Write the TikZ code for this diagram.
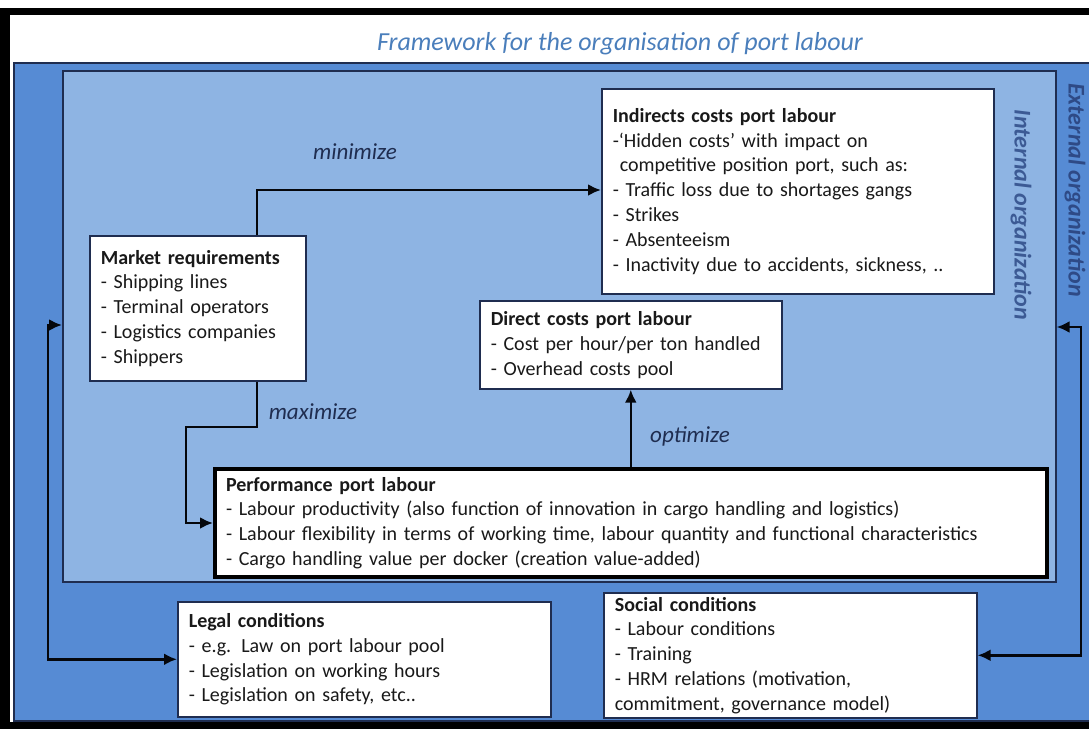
\documentclass[tikz,border=0pt]{standalone}
\usepackage{fontspec}
\setmainfont{Carlito}
\usetikzlibrary{arrows.meta}

\definecolor{outerblue}{RGB}{86,139,212}
\definecolor{innerblue}{RGB}{142,180,227}
\definecolor{navyline}{RGB}{31,45,80}
\definecolor{titleblue}{RGB}{74,126,187}
\definecolor{orgblue}{RGB}{46,74,134}

\begin{document}
\begin{tikzpicture}[x=0.5pt, y=-0.5pt,
    txtbox/.style={draw=navyline, line width=0.8pt, fill=white, anchor=north west, align=left,
        inner xsep=5.5pt, inner ysep=1pt, font=\fontsize{10}{12.4}\selectfont, text=black!90},
    flow/.style={line width=1.3pt, draw=black!85!navyline, -{Latex[length=6.5pt,width=6pt]}},
    biflow/.style={flow, {Latex[length=6.5pt,width=6pt]}-{Latex[length=6.5pt,width=6pt]}},
    verb/.style={font=\fontsize{11.5}{13}\selectfont\itshape, text=navyline},
    orglabel/.style={font=\fontsize{12}{14}\selectfont\bfseries\itshape, rotate=-90}]
    \useasboundingbox (0,0) rectangle (1089,729);

    % Draw the frame
    \fill[black] (0,8) rectangle (1089,15);
    \fill[black] (0,8) rectangle (10,729);
    \fill[black] (0,722) rectangle (1089,729);

    % Draw the title
    \node[font=\fontsize{13}{15}\selectfont\itshape, text=titleblue] (title) at (620,44)
        {Framework for the organisation of port labour};

    % Draw the external and internal organization
    \node[draw=navyline, line width=0.8pt, fill=outerblue, anchor=north west, inner sep=0pt,
        minimum width=541pt, minimum height=329pt] (external) at (13,62) {};
    \node[draw=navyline, line width=0.8pt, fill=innerblue, anchor=north west, inner sep=0pt,
        minimum width=496.5pt, minimum height=255.5pt] (internal) at (62,70) {};
    \node[orglabel, text=orgblue!85!innerblue] (intlabel) at (1021,215) {Internal organization};
    \node[orglabel, text=orgblue] (extlabel) at (1075,190) {External organization};

    % Draw the boxes
    \node[txtbox, text width=185pt, minimum height=102.5pt] (indirect) at (601,88)
        {\textbf{Indirects costs port labour}\\
        -‘Hidden costs’ with impact on\\
        \hspace*{3.5pt}competitive position port, such as:\\
        - Traffic loss due to shortages gangs\\
        - Strikes\\
        - Absenteeism\\
        - Inactivity due to accidents, sickness, ..};
    \node[txtbox, text width=97pt, minimum height=72.5pt] (market) at (89,235)
        {\textbf{Market requirements}\\
        - Shipping lines\\
        - Terminal operators\\
        - Logistics companies\\
        - Shippers};
    \node[txtbox, text width=140pt, minimum height=44pt] (direct) at (479,300)
        {\textbf{Direct costs port labour}\\
        - Cost per hour/per ton handled\\
        - Overhead costs pool};
    \node[txtbox, draw=black, line width=2pt, text width=405pt, minimum height=54pt] (perf) at (213,467)
        {\textbf{Performance port labour}\\
        - Labour productivity (also function of innovation in cargo handling and logistics)\\
        - Labour flexibility in terms of working time, labour quantity and functional characteristics\\
        - Cargo handling value per docker (creation value-added)};
    \node[txtbox, text width=175.5pt, minimum height=57.5pt] (legal) at (177,601)
        {\textbf{Legal conditions}\\
        - e.g. Law on port labour pool\\
        - Legislation on working hours\\
        - Legislation on safety, etc..};
    \node[txtbox, text width=175.5pt, minimum height=62.5pt] (social) at (603,592)
        {\textbf{Social conditions}\\
        - Labour conditions\\
        - Training\\
        - HRM relations (motivation,\\
        commitment, governance model)};

    % Draw the connectors
    \coordinate (minbend) at (257,190);
    \coordinate (maxbend) at (186,427);
    \coordinate (lbend) at (48,325);
    \coordinate (rbend) at (1081,327);
    \draw[flow] (market.north -| minbend) -- (minbend) -- (minbend -| indirect.west);
    \draw[flow] (market.south -| minbend) |- (maxbend) |- (perf.west);
    \draw[flow] (perf.north -| direct.south) -- (direct.south);
    \draw[biflow] (lbend -| internal.west) -- (lbend) |- (legal.west);
    \draw[biflow] (rbend -| internal.east) -- (rbend) |- (social.east);

    % Draw the labels
    \node[verb] (minlabel) at (355,152) {minimize};
    \node[verb] (maxlabel) at (313,412) {maximize};
    \node[verb] (optlabel) at (690,436) {optimize};
\end{tikzpicture}
\end{document}
